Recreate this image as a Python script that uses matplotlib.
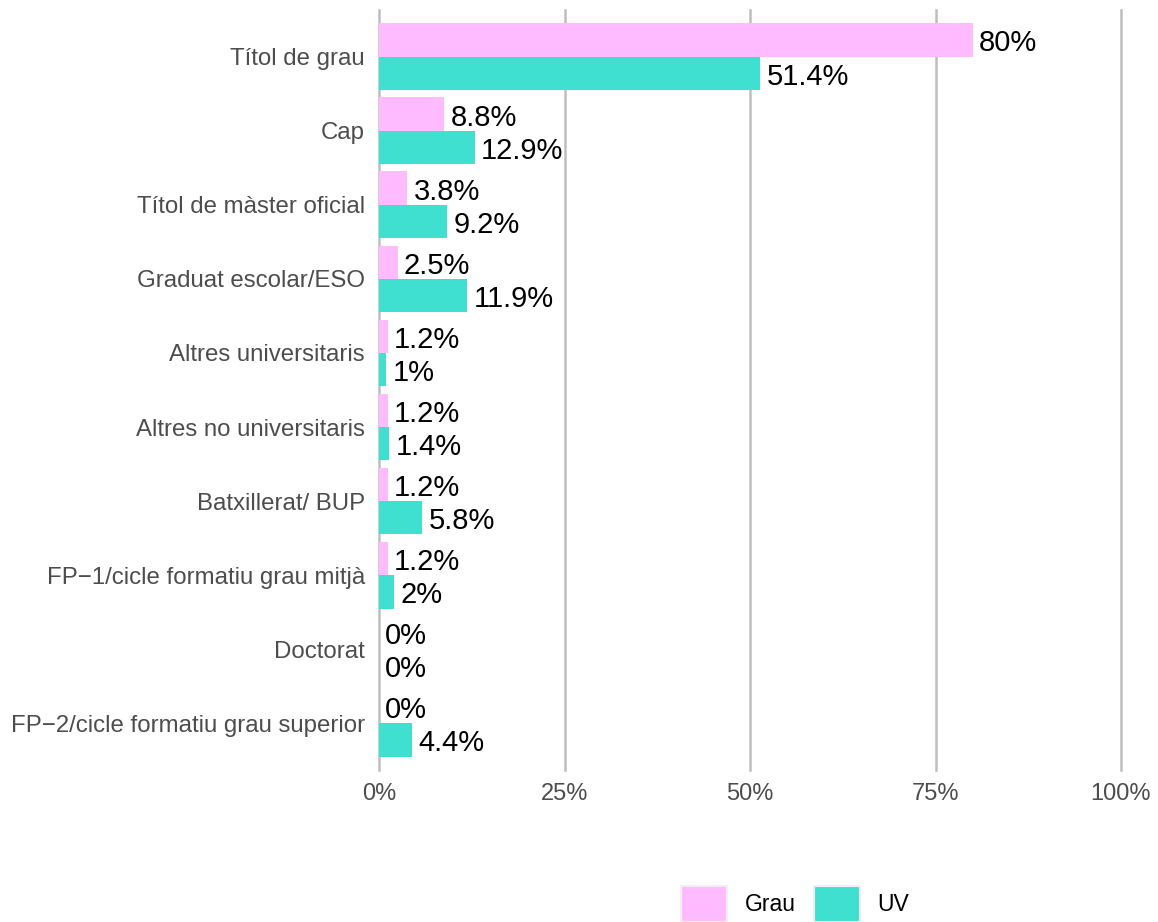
import numpy as np
import matplotlib
matplotlib.use("Agg")
import matplotlib.pyplot as plt
from matplotlib.patches import Patch

plt.rcParams['font.family'] = ['Liberation Sans', 'DejaVu Sans']

categories = ["Títol de grau", "Cap", "Títol de màster oficial", "Graduat escolar/ESO",
              "Altres universitaris", "Altres no universitaris", "Batxillerat/ BUP",
              "FP\u22121/cicle formatiu grau mitjà", "Doctorat",
              "FP\u22122/cicle formatiu grau superior"]
grau = [80, 8.8, 3.8, 2.5, 1.2, 1.2, 1.2, 1.2, 0, 0]
uv = [51.4, 12.9, 9.2, 11.9, 1, 1.4, 5.8, 2, 0, 4.4]
series_names = ["Grau", "UV"]
colors = ["#FFBBFF", "#40E0D0"]
xticks = [0, 25, 50, 75, 100]

fig = plt.figure(figsize=(11.58, 9.22), dpi=100)
ax = fig.add_axes([379/1158, 152/922, 742/1158, 760/922])

n = len(categories)
y = np.arange(n)[::-1].astype(float)
h = 0.45
for vals, off, col in [(grau, h/2, colors[0]), (uv, -h/2, colors[1])]:
    ax.barh(y + off, vals, height=h, color=col, zorder=3)
    for yi, v in zip(y + off, vals):
        ax.annotate(f"{v:g}%", (v, yi), xytext=(4.5, -2.5), textcoords='offset points',
                    va='center', ha='left', fontsize=21, color='black', zorder=4)

ax.set_xlim(0, 100)
ax.set_ylim(-0.63, n - 1 + 0.63)
ax.set_yticks(y)
ax.set_yticklabels(categories)
ax.set_xticks(xticks)
ax.set_xticklabels([f"{t}%" for t in xticks])
ax.tick_params(axis='both', length=0, labelcolor='#4D4D4D')
ax.tick_params(axis='x', pad=9, labelsize=17)
ax.tick_params(axis='y', pad=10, labelsize=17.3)
for s in ax.spines.values():
    s.set_visible(False)
ax.grid(axis='x', color='#BEBEBE', linewidth=1.8, zorder=0)
ax.grid(axis='y', visible=False)
for gl in ax.get_xgridlines():
    gl.set_clip_on(False)

handles = [Patch(facecolor=c, edgecolor='#F0F0F0', linewidth=1.5) for c in colors]
fig.legend(handles, series_names, loc='center', bbox_to_anchor=(795/1158, 1 - 904/922),
           ncol=2, frameon=False, fontsize=16.5, handlelength=2.0, handleheight=2.0,
           handletextpad=0.75, columnspacing=0.8, borderpad=0)

fig.savefig("out.png", dpi=100)
